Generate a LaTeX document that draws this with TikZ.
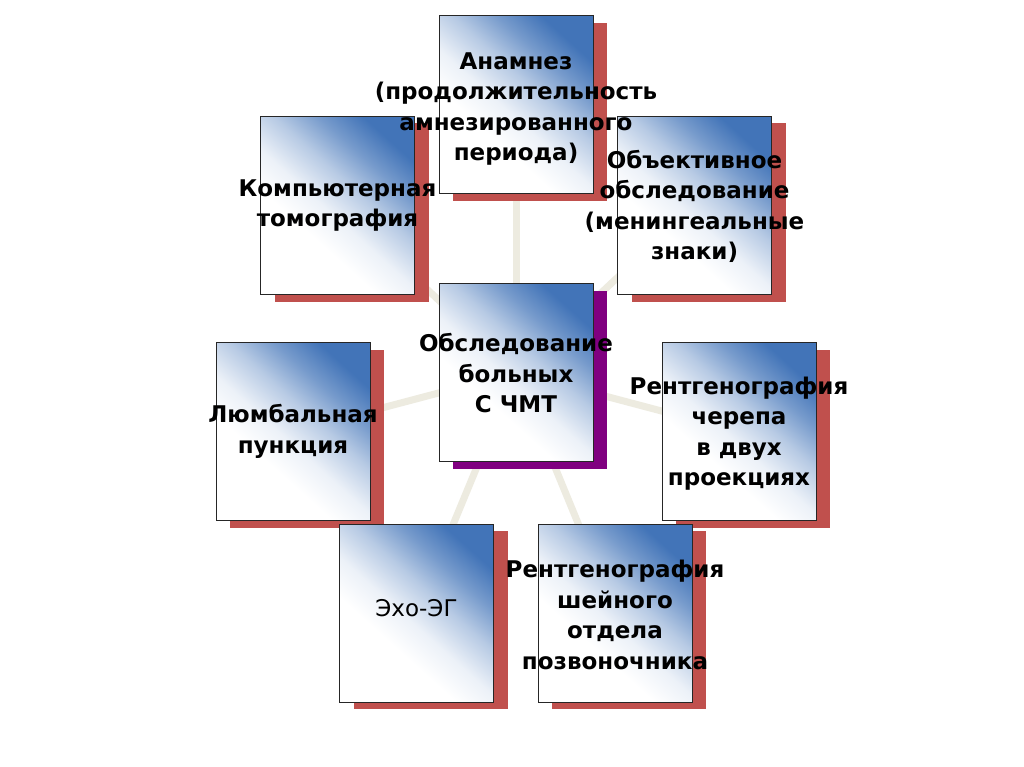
\documentclass[tikz,border=0pt]{standalone}
\usepackage{fontspec}
\setmainfont{DejaVu Sans}
\usetikzlibrary{shadows,backgrounds}
\definecolor{boxblue}{HTML}{4274B8}
\definecolor{shred}{HTML}{C0504D}
\definecolor{shpurple}{HTML}{800080}
\definecolor{linkcol}{HTML}{EDEBE0}
\pgfdeclareverticalshading{cardshade}{100bp}{color(0bp)=(white); color(25bp)=(white); color(38bp)=(white); color(47bp)=(boxblue!10!white); color(57bp)=(boxblue!38!white); color(66bp)=(boxblue!72!white); color(75bp)=(boxblue); color(100bp)=(boxblue)}
\tikzset{
  card/.style={draw=black!85, line width=1pt, minimum width=154pt, minimum height=178pt,
    inner sep=0pt, outer sep=0pt,
    shade, shading=cardshade, shading angle=-42,
    drop shadow={shadow xshift=14pt, shadow yshift=-7pt, fill=shred, opacity=1}},
  cardp/.style={card, drop shadow={shadow xshift=14pt, shadow yshift=-7pt, fill=shpurple, opacity=1}},
  link/.style={draw=linkcol, line width=7pt},
  lbl/.style={align=center, font=\fontsize{23}{30.5}\selectfont\bfseries, text=black},
  lblr/.style={align=center, font=\fontsize{23}{30.5}\selectfont, text=black}
}
\begin{document}
\begin{tikzpicture}[x=1pt,y=-1pt]
\useasboundingbox (0,0) rectangle (1024,767);
\node[card] (K) at (337.5,205.5) {};
\node[card] (A) at (516,105) {};
\node[card] (O) at (694.5,205.5) {};
\node[cardp] (C) at (516,372.5) {};
\node[card] (L) at (293,431.5) {};
\node[card] (R) at (739,431.5) {};
\node[card] (E) at (416.5,613) {};
\node[card] (S) at (615,613) {};
\begin{scope}[on background layer]
\fill[white] (0,0) rectangle (1024,767);
\foreach \n in {A,K,O,L,R,E,S} \draw[link] (C.center) -- (\n.center);
\end{scope}
\node[lbl] (tK) at (K.center) {Компьютерная\\томография};
\node[lbl] (tA) at ([yshift=-4pt]A.center) {Анамнез\\(продолжительность\\амнезированного\\периода)};
\node[lbl] (tO) at ([yshift=-1pt]O.center) {Объективное\\обследование\\(менингеальные\\знаки)};
\node[lbl] (tC) at ([yshift=-1pt]C.center) {Обследование\\больных\\С ЧМТ};
\node[lbl] (tL) at (L.center) {Люмбальная\\пункция};
\node[lbl] (tR) at ([yshift=-2pt]R.center) {Рентгенография\\черепа\\в двух\\проекциях};
\node[lblr] (tE) at ([yshift=5pt]E.center) {Эхо-ЭГ};
\node[lbl] (tS) at ([yshift=-2pt]S.center) {Рентгенография\\шейного\\отдела\\позвоночника};
\end{tikzpicture}
\end{document}
